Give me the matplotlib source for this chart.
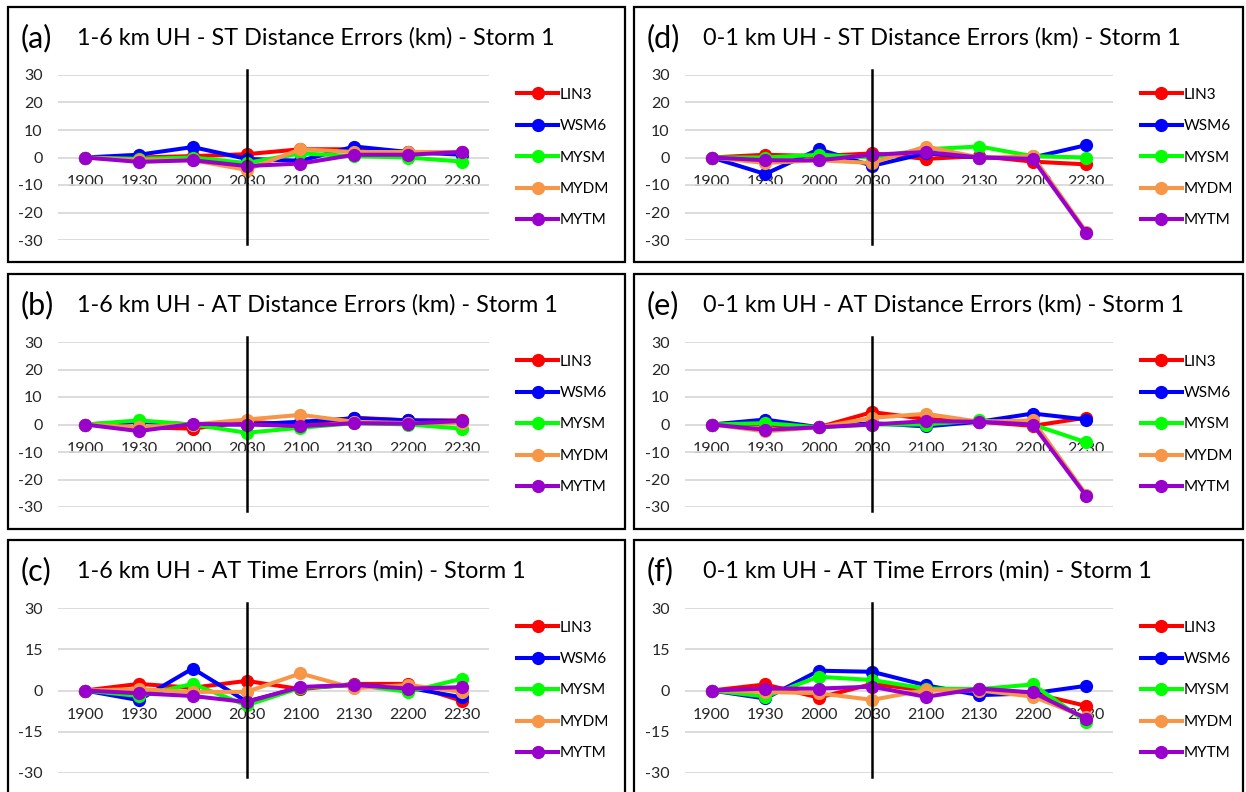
"""
Errores de distancia y tiempo de UH - Storm 1, seis paneles estilo Excel
"""

import matplotlib
matplotlib.use("Agg")
import matplotlib.pyplot as plt
from matplotlib.patches import Rectangle

plt.rcParams["font.family"] = ["Lato", "DejaVu Sans"]

W, H = 1246, 792

times = ["1900", "1930", "2000", "2030", "2100", "2130", "2200", "2230"]
schemes = ["LIN3", "WSM6", "MYSM", "MYDM", "MYTM"]
colors = ["#FF0000", "#0000FF", "#00FF00", "#F79646", "#9900CC"]

# (a) 1-6 km UH - ST distance (km)
a_lin3 = [0, 0, 0.5, 1.2, 3, 3, 2, 2]
a_wsm6 = [0, 1, 3.8, -0.5, -1.2, 4, 2, 1]
a_mysm = [0, -0.5, 0, -2, 1.5, 0.5, 0, -1.5]
a_mydm = [0, -1, -1, -4.5, 3, 2, 2, 2]
a_mytm = [0, -1.6, -1, -3.1, -2.2, 1, 1, 2]

# (b) 1-6 km UH - AT distance (km)
b_lin3 = [0, -1, -1.5, 1, 0, 2.5, 1.5, 1.5]
b_wsm6 = [0, 1, 0, 0, 1, 2.2, 1.5, 1.2]
b_mysm = [0, 1.5, 0, -3, -1.2, 0.5, 0, -1.5]
b_mydm = [0, -1, 0, 1.8, 3.5, 1, 0.5, 0.5]
b_mytm = [0, -2.4, 0.2, 0, -0.6, 0.5, 0.3, 1.3]

# (c) 1-6 km UH - AT time (min)
c_lin3 = [0, 2.4, 1, 3.5, 0.5, 2.4, 2.4, -3.8]
c_wsm6 = [0, -3.5, 8, -4, 1, 2, 1, -2.5]
c_mysm = [0, -2, 2.4, -5.4, 1, 2, -0.5, 4.3]
c_mydm = [0, 0.5, -0.5, -0.5, 6.2, 0.8, 2, -0.5]
c_mytm = [0, -1, -2, -4.2, 1.3, 2, 0.7, 1.2]

# (d) 0-1 km UH - ST distance (km)
d_lin3 = [0, 1, 0.5, 1.5, -0.5, 0.5, -1.5, -2.5]
d_wsm6 = [0, -6, 3, -3, 1.5, 0, 0, 4.5]
d_mysm = [0, 0, 1, 0, 3, 4, 0.5, 0]
d_mydm = [0, -2, -1, -2, 4, 0, 0.5, -27]
d_mytm = [0, -1, -1, 1, 2, 0, -0.5, -27.5]

# (e) 0-1 km UH - AT distance (km)
e_lin3 = [0, 0, -1, 4.5, 2, 1, -0.5, 2.5]
e_wsm6 = [0, 1.8, -1, 0.5, -0.7, 1, 4, 1.8]
e_mysm = [0, 0.5, -1, 0, 0, 1.5, 0, -6.5]
e_mydm = [0, -2.5, -1, 2.4, 3.9, 1, 1.5, -25.5]
e_mytm = [0, -1.9, -1, 0, 1.2, 1, 0, -26]

# (f) 0-1 km UH - AT time (min)
f_lin3 = [0, 2.2, -2.6, 2.4, 0, 0.5, -1, -5.6]
f_wsm6 = [0, -2.9, 7.2, 6.8, 1.9, -1.7, -1, 1.7]
f_mysm = [0, -2.2, 5, 3.8, 0.7, 0.5, 2.2, -11.3]
f_mydm = [0, -0.5, -1, -3.4, 0.2, 0, -2.2, -9.8]
f_mytm = [0, 0.7, 0.7, 1.4, -2.3, 0.7, -0.7, -10.2]

panels = [
    ("(a)", "1-6 km UH - ST Distance Errors (km) - Storm 1", [a_lin3, a_wsm6, a_mysm, a_mydm, a_mytm], 10),
    ("(b)", "1-6 km UH - AT Distance Errors (km) - Storm 1", [b_lin3, b_wsm6, b_mysm, b_mydm, b_mytm], 10),
    ("(c)", "1-6 km UH - AT Time Errors (min) - Storm 1", [c_lin3, c_wsm6, c_mysm, c_mydm, c_mytm], 15),
    ("(d)", "0-1 km UH - ST Distance Errors (km) - Storm 1", [d_lin3, d_wsm6, d_mysm, d_mydm, d_mytm], 10),
    ("(e)", "0-1 km UH - AT Distance Errors (km) - Storm 1", [e_lin3, e_wsm6, e_mysm, e_mydm, e_mytm], 10),
    ("(f)", "0-1 km UH - AT Time Errors (min) - Storm 1", [f_lin3, f_wsm6, f_mysm, f_mydm, f_mytm], 15),
]

# geometria en pixeles (col izquierda / derecha, filas)
COLS = [dict(box=(8, 625), ax=(58, 489), lab=21, tit=77),
        dict(box=(634, 1243), ax=(685, 1113), lab=647, tit=703)]
ROW_TOP = [7, 274, 540]


def fx(px):
    return px / W


def fy(py):
    return 1 - py / H


def draw_panel(fig, col, row, letter, title, series, step):
    c = COLS[col]
    top = ROW_TOP[row]
    # marco
    b0, b1 = c["box"]
    bottom = min(top + 255, H + 5)
    fig.patches.append(Rectangle((fx(b0), fy(bottom)), fx(b1 - b0), (bottom - top) / H,
                                 transform=fig.transFigure, fill=False,
                                 edgecolor="black", linewidth=1.6, zorder=0))
    fig.text(fx(c["lab"]), fy(top + 31), letter, fontsize=22, va="center", ha="left")
    fig.text(fx(c["tit"]), fy(top + 31), title, fontsize=16.8, va="center", ha="left")

    x0, x1 = c["ax"]
    ay0, ay1 = top + 68, top + 233
    ax = fig.add_axes([fx(x0), fy(ay1), fx(x1 - x0), (ay1 - ay0) / H])
    ax.set_facecolor("none")
    xs = range(len(times))
    for name, col_, ys in zip(schemes, colors, series):
        ax.plot(xs, ys, color=col_, lw=2.9, marker="o", ms=8.5, label=name,
                solid_joinstyle="round", zorder=3)
    ax.plot([3, 3], [-31.5, 31.7], color="black", lw=1.8, clip_on=False, zorder=4)

    ax.set_xlim(-0.5, len(times) - 0.5)
    ax.set_ylim(-30, 30)
    yt = list(range(-30, 31, step))
    ax.set_yticks(yt)
    ax.set_yticklabels([str(v) for v in yt])
    ax.grid(axis="y", color="#D9D9D9", lw=1.3, zorder=0)
    ax.set_axisbelow(True)
    ax.set_xticks(list(xs))
    ax.set_xticklabels(times)
    for s in ["top", "right", "left"]:
        ax.spines[s].set_visible(False)
    ax.spines["bottom"].set_position(("data", 0))
    ax.spines["bottom"].set_color("none")
    ax.tick_params(axis="x", length=0, pad=12.5, labelsize=11.5, labelcolor="#262626")
    ax.tick_params(axis="y", length=0, pad=11, labelsize=11.5, labelcolor="#262626")

    ax.legend(loc="center left", bbox_to_anchor=(1.065, 0.5),
              frameon=False, fontsize=11, handlelength=2.7, handletextpad=0.1,
              labelspacing=1.14, borderaxespad=0, borderpad=0)
    return ax


def main():
    fig = plt.figure(figsize=(W / 100, H / 100), dpi=100)
    for i, (letter, title, series, step) in enumerate(panels):
        draw_panel(fig, i // 3, i % 3, letter, title, series, step)
    fig.savefig("out.png", dpi=100)


if __name__ == "__main__":
    main()
